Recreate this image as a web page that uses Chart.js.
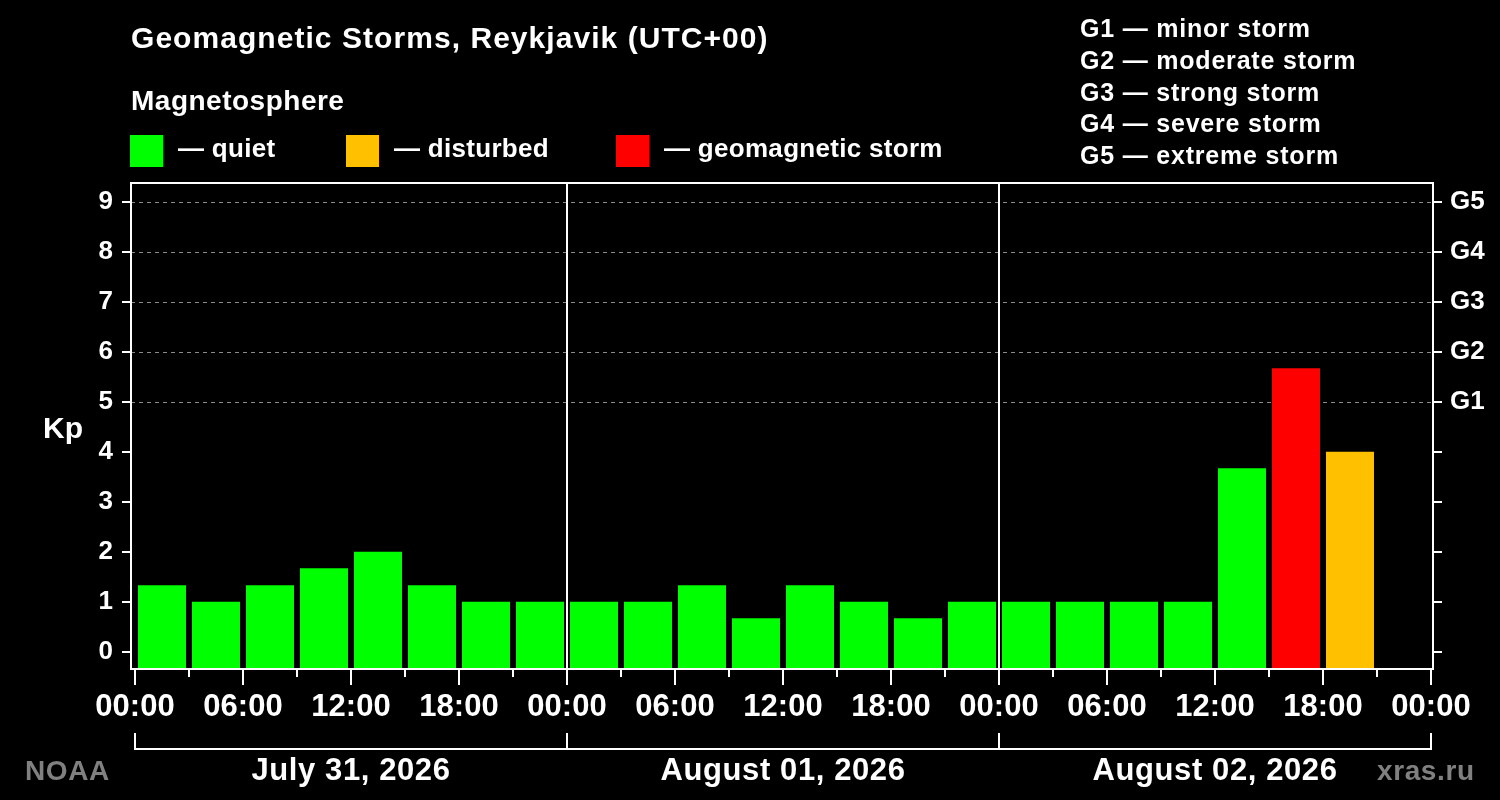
<!DOCTYPE html>
<html><head><meta charset="utf-8">
<script src="https://cdn.jsdelivr.net/npm/chart.js@4.4.1/dist/chart.umd.min.js"></script>
<style>html,body{margin:0;padding:0;background:#000;overflow:hidden}#wrap{width:1500px;height:800px;position:relative}</style>
</head><body><div id="wrap"><canvas id="c" width="1500" height="800"></canvas></div>
<script>
// ---- data ----
const kp = [1.33, 1, 1.33, 1.67, 2, 1.33, 1, 1,
            1, 1, 1.33, 0.67, 1.33, 1, 0.67, 1,
            1, 1, 1, 1, 3.67, 5.67, 4, null];
const days = ['July 31, 2026', 'August 01, 2026', 'August 02, 2026'];
const hourLabels = ['00:00', '06:00', '12:00', '18:00'];
const kpTicks = [0, 1, 2, 3, 4, 5, 6, 7, 8, 9];
const gLevels = [5, 6, 7, 8, 9];
const gLabels = ['G1', 'G2', 'G3', 'G4', 'G5'];
const gDescriptions = ['minor storm', 'moderate storm', 'strong storm', 'severe storm', 'extreme storm'];
const legendNames = ['quiet', 'disturbed', 'geomagnetic storm'];
const legendColors = ['#00ff00', '#ffc000', '#ff0000'];

const FONT = '"Liberation Sans", Arial, sans-serif';
const Y_MIN = -0.346, Y_MAX = 9.374;
const X_MIN = -0.222, X_MAX = 72.111;

function kpColor(v) { return v >= 5 ? legendColors[2] : (v >= 4 ? legendColors[1] : legendColors[0]); }

const points = kp.map((v, i) => ({ x: i * 3 + 1.5, y: v }));

function line(ctx, x1, y1, x2, y2) { ctx.beginPath(); ctx.moveTo(x1, y1); ctx.lineTo(x2, y2); ctx.stroke(); }

const deco = {
  id: 'deco',
  beforeDatasetsDraw(chart) {
    const { ctx, chartArea: a, scales: { y } } = chart;
    ctx.save();
    ctx.strokeStyle = '#8a8a8a'; ctx.lineWidth = 1; ctx.setLineDash([4, 4]);
    gLevels.forEach(v => {
      const py = Math.round(y.getPixelForValue(v)) + 0.5;
      line(ctx, a.left, py, a.right, py);
    });
    ctx.restore();
  },
  afterDraw(chart) {
    const { ctx, chartArea: a, scales: { x } } = chart;
    ctx.save();
    ctx.strokeStyle = '#fff'; ctx.lineWidth = 2;
    // day separators
    for (let d = 1; d < days.length; d++) {
      const px = Math.round(x.getPixelForValue(d * 24));
      line(ctx, px, a.top, px, a.bottom);
    }
    // frame
    ctx.strokeRect(a.left, a.top, a.right - a.left, a.bottom - a.top);
    // x tick marks
    for (let h = 0; h <= days.length * 24; h += 3) {
      const px = Math.round(x.getPixelForValue(h));
      line(ctx, px, a.bottom, px, a.bottom + (h % 6 === 0 ? 16 : 8));
    }
    // day bracket
    const by = a.bottom + 80;
    line(ctx, Math.round(x.getPixelForValue(0)) - 1, by, Math.round(x.getPixelForValue(days.length * 24)) + 1, by);
    for (let d = 0; d <= days.length; d++) {
      const px = Math.round(x.getPixelForValue(d * 24));
      line(ctx, px, by - 16, px, by);
    }
    // date labels
    ctx.fillStyle = '#fff';
    ctx.font = `bold 31px ${FONT}`;
    ctx.letterSpacing = '0.6px';
    ctx.textAlign = 'center'; ctx.textBaseline = 'alphabetic';
    days.forEach((d, i) => ctx.fillText(d, x.getPixelForValue(i * 24 + 12), 780));
    // credits
    ctx.fillStyle = '#808080';
    ctx.font = `bold 28px ${FONT}`;
    ctx.letterSpacing = '0.6px';
    ctx.textAlign = 'left';
    ctx.fillText('NOAA', 25, 780);
    ctx.fillText('xras.ru', 1377, 780);
    // Kp label
    ctx.letterSpacing = '0px';
    ctx.fillStyle = '#fff';
    ctx.font = `bold 30px ${FONT}`;
    ctx.fillText('Kp', 43, 438);
    // title
    ctx.letterSpacing = '1.05px';
    ctx.font = `bold 30px ${FONT}`;
    ctx.fillText('Geomagnetic Storms, Reykjavik (UTC+00)', 131, 48);
    ctx.letterSpacing = '0.5px';
    ctx.font = `bold 28px ${FONT}`;
    ctx.fillText('Magnetosphere', 131, 110);
    // legend
    ctx.font = `bold 26px ${FONT}`;
    ctx.letterSpacing = '0.3px';
    const lx = [130, 346, 616];
    legendNames.forEach((n, i) => {
      ctx.fillStyle = legendColors[i];
      ctx.fillRect(lx[i], 135, 33, 32);
      ctx.fillStyle = '#fff';
      ctx.fillText('\u2014 ' + n, lx[i] + 48, 157);
    });
    // G scale legend
    ctx.font = `bold 25px ${FONT}`;
    ctx.letterSpacing = '0.8px';
    gLabels.forEach((g, i) => {
      ctx.fillText(g + ' \u2014 ' + gDescriptions[i], 1080, 37 + i * 31.8);
    });
    ctx.restore();
  }
};

const tickFont = { family: FONT, weight: 'bold', size: 26 };

new Chart(document.getElementById('c'), {
  type: 'bar',
  data: {
    datasets: [{
      data: points,
      backgroundColor: ctx => kpColor(ctx.raw ? ctx.raw.y : 0),
      borderWidth: 0,
      base: Y_MIN,
      barPercentage: 48 / 54,
      categoryPercentage: 1
    }]
  },
  options: {
    responsive: false,
    devicePixelRatio: 1,
    animation: false,
    layout: { padding: { top: 183, left: 0, right: 0, bottom: 0 } },
    plugins: { legend: { display: false }, tooltip: { enabled: false }, title: { display: false } },
    scales: {
      x: {
        type: 'linear', min: X_MIN, max: X_MAX, offset: false,
        afterBuildTicks: s => { const t = []; for (let h = 0; h <= days.length * 24; h += 3) t.push({ value: h }); s.ticks = t; },
        afterFit: s => { s.height = 131; },
        ticks: {
          autoSkip: false, maxRotation: 0, minRotation: 0,
          color: '#fff', font: { family: FONT, weight: 'bold', size: 31 }, padding: 20,
          callback: v => (v % 6 === 0 ? hourLabels[(v % 24) / 6] : '')
        },
        grid: { display: false, drawTicks: false, offset: false },
        border: { display: false }
      },
      y: {
        position: 'left', min: Y_MIN, max: Y_MAX,
        afterBuildTicks: s => { s.ticks = kpTicks.map(v => ({ value: v })); },
        afterFit: s => { s.width = 131; },
        ticks: { autoSkip: false, color: '#fff', font: tickFont, padding: 9, callback: v => String(v) },
        grid: { drawOnChartArea: false, drawTicks: true, tickLength: 9, color: '#fff', lineWidth: 2 },
        border: { display: false }
      },
      y2: {
        position: 'right', min: Y_MIN, max: Y_MAX,
        afterBuildTicks: s => { s.ticks = kpTicks.map(v => ({ value: v })); },
        afterFit: s => { s.width = 67; },
        ticks: { autoSkip: false, color: '#fff', font: tickFont, padding: 8,
          callback: v => { const i = gLevels.indexOf(v); return i >= 0 ? gLabels[i] : ''; } },
        grid: { drawOnChartArea: false, drawTicks: true, tickLength: 9, color: '#fff', lineWidth: 2 },
        border: { display: false }
      }
    }
  },
  plugins: [deco]
});
</script>
</body></html>
